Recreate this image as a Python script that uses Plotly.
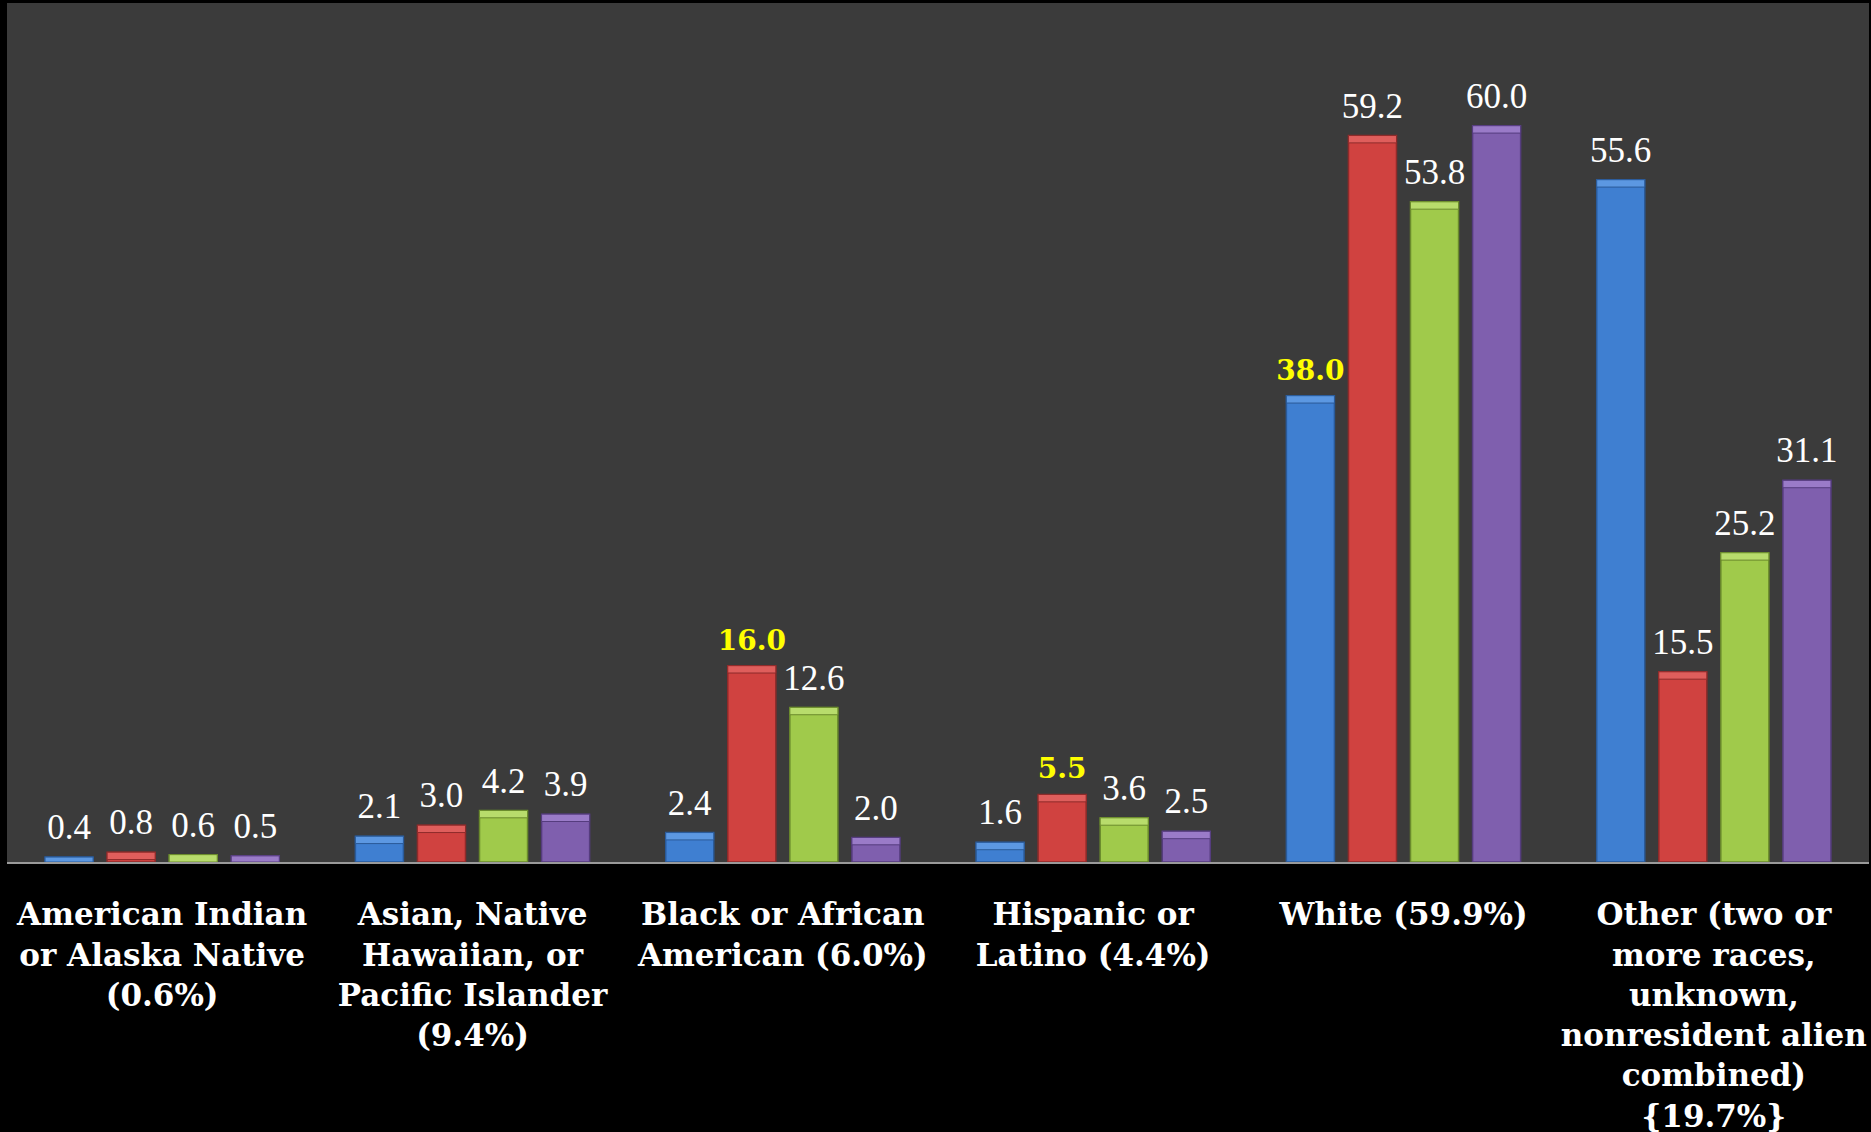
import plotly.graph_objects as go

# Category labels shown under each group of bars
categories = [
    "American Indian<br>or Alaska Native<br>(0.6%)",
    "Asian, Native<br>Hawaiian, or<br>Pacific Islander<br>(9.4%)",
    "Black or African<br>American (6.0%)",
    "Hispanic or<br>Latino (4.4%)",
    "White (59.9%)",
    "Other (two or<br>more races,<br>unknown,<br>nonresident alien<br>combined)<br>{19.7%}",
]

# Four series of percentages, one value per category
series_blue = [0.4, 2.1, 2.4, 1.6, 38.0, 55.6]
series_red = [0.8, 3.0, 16.0, 5.5, 59.2, 15.5]
series_green = [0.6, 4.2, 12.6, 3.6, 53.8, 25.2]
series_purple = [0.5, 3.9, 2.0, 2.5, 60.0, 31.1]

# Values called out in bold yellow (series index, category index)
highlighted = [(0, 4), (1, 2), (1, 3)]

all_series = [series_blue, series_red, series_green, series_purple]
fill_colors = ["#3f7fd1", "#d04240", "#a0ca4b", "#7f5fae"]
edge_colors = ["#2a5a98", "#8e2b2a", "#6a8a2c", "#553c7e"]
bevel_colors = ["#5c98e2", "#df5e5c", "#b8dc6c", "#9a7bc8"]

BEVEL = 0.6  # height of the lighter top facet, in data units

fig = go.Figure()

for k, vals in enumerate(all_series):
    grp = f"s{k}"
    fig.add_trace(go.Bar(
        x=categories, y=vals, offsetgroup=grp,
        marker=dict(color=fill_colors[k], line=dict(color=edge_colors[k], width=1.5)),
        hoverinfo="skip", showlegend=False,
    ))

for k, vals in enumerate(all_series):
    grp = f"s{k}"
    bevel_h = [min(v, BEVEL) for v in vals]
    bevel_base = [v - h for v, h in zip(vals, bevel_h)]
    fig.add_trace(go.Bar(
        x=categories, y=bevel_h, base=bevel_base, offsetgroup=grp,
        marker=dict(color=bevel_colors[k], line=dict(color=edge_colors[k], width=1)),
        hoverinfo="skip", showlegend=False,
    ))

# Value labels, grouped the same way as the bars
for k, vals in enumerate(all_series):
    grp = f"s{k}"
    texts, colors, fams, sizes = [], [], [], []
    for i, v in enumerate(vals):
        hl = (k, i) in highlighted
        texts.append(f"<b>{v:.1f}</b>" if hl else f"{v:.1f}")
        colors.append("#ffff00" if hl else "#ffffff")
        fams.append("DejaVu Serif" if hl else "Liberation Serif")
        sizes.append(28 if hl else 35)
    fig.add_trace(go.Scatter(
        x=categories, y=vals, offsetgroup=grp,
        mode="markers+text", text=texts, textposition="top center",
        textfont=dict(color=colors, size=sizes, family=fams),
        marker=dict(size=13, opacity=0),
        hoverinfo="skip", showlegend=False, cliponaxis=False,
    ))

fig.update_layout(
    width=1871, height=1132,
    margin=dict(l=7, r=2, t=3, b=270),
    paper_bgcolor="#000000",
    plot_bgcolor="#3b3b3b",
    barmode="group",
    bargap=0.2,
    bargroupgap=0.226,
    scattermode="group",
    scattergap=0.2,
    showlegend=False,
)
fig.update_xaxes(
    showline=True, linecolor="#9a9a9a", linewidth=2,
    ticks="", ticklabelstandoff=24, automargin=False,
    tickfont=dict(family="DejaVu Serif", size=31, color="#ffffff", weight="bold"),
    showgrid=False,
)
fig.update_yaxes(
    range=[0, 70], showticklabels=False, showgrid=False, zeroline=False,
    automargin=False,
)

fig.write_html("out.html")
